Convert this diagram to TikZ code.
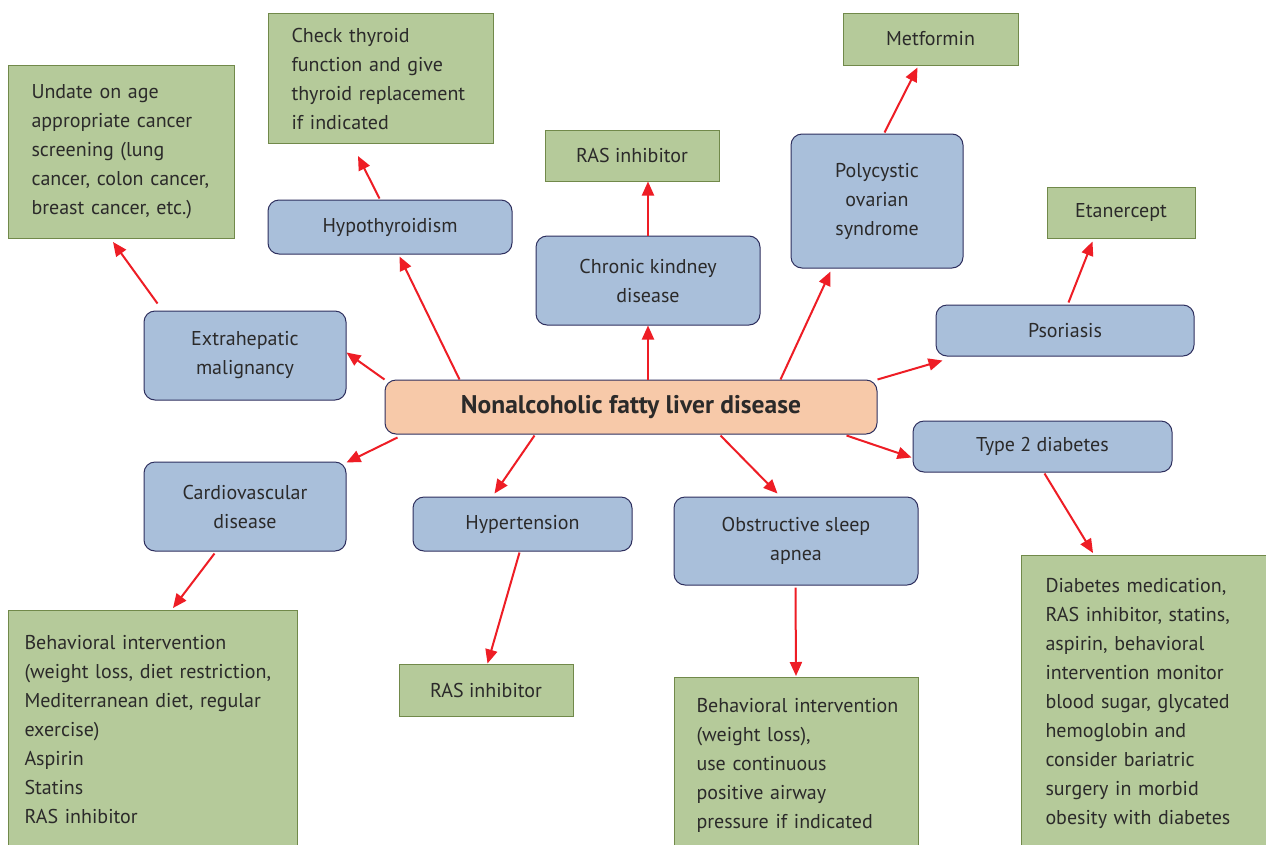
\documentclass[tikz,border=0pt]{standalone}
\usepackage{fontspec}
\setmainfont{PT Sans}
\usetikzlibrary{arrows.meta,calc}

\definecolor{peachfill}{HTML}{F7C9A9}
\definecolor{bluefill}{HTML}{A9BFDA}
\definecolor{greenfill}{HTML}{B5CA9A}
\definecolor{navyline}{HTML}{2E2F5E}
\definecolor{oliveline}{HTML}{71894A}
\definecolor{linkred}{HTML}{EE1D25}
\definecolor{inkgray}{HTML}{2B2A2A}

\tikzstyle{disease}=[draw=navyline,fill=bluefill,rounded corners=11pt,line width=1pt,inner sep=0pt,align=center,text=inkgray,font=\fontsize{20}{29}\selectfont]
\tikzstyle{treat}=[draw=oliveline,fill=greenfill,line width=1pt,inner sep=0pt,align=left,text=inkgray,font=\fontsize{20}{29}\selectfont]
\tikzstyle{link}=[draw=linkred,line width=2pt,-{Triangle[length=14pt,width=12pt,fill=linkred]}]

\begin{document}
\begin{tikzpicture}[x=1pt,y=-1pt]
		\useasboundingbox[fill=white] (0,0) rectangle (1266,844);
		% centre
		\node[draw=navyline,fill=peachfill,rounded corners=11pt,line width=1pt,minimum width=492pt,minimum height=54pt,text=inkgray,font=\fontsize{25.5}{30}\selectfont\bfseries] (nafld) at (631,407) {Nonalcoholic fatty liver disease};
		% related diseases
		\node[disease,minimum width=202pt,minimum height=89pt] (ext) at (245,355.5) {Extrahepatic\\malignancy};
		\node[disease,minimum width=244pt,minimum height=54pt] (hypo) at (390,227) {Hypothyroidism};
		\node[disease,minimum width=224pt,minimum height=89pt] (ckd) at (648,280.5) {Chronic kindney\\disease};
		\node[disease,minimum width=172pt,minimum height=134pt] (pcos) at (877,201) {Polycystic\\ovarian\\syndrome};
		\node[disease,minimum width=258pt,minimum height=51pt] (psor) at (1065,330.5) {Psoriasis};
		\node[disease,minimum width=259pt,minimum height=51pt] (t2d) at (1042.5,446.5) {Type 2 diabetes};
		\node[disease,minimum width=244pt,minimum height=88pt] (osa) at (796,541) {Obstructive sleep\\apnea};
		\node[disease,minimum width=219pt,minimum height=54pt] (hyper) at (522.5,524) {Hypertension};
		\node[disease,minimum width=202pt,minimum height=89pt] (cardio) at (245,506.5) {Cardiovascular\\disease};
		% management
		\node[treat,anchor=north west,inner xsep=23pt,text width=180pt,minimum height=173pt] (undate) at (8,65) {Undate on age\\appropriate cancer\\screening (lung\\cancer, colon cancer,\\breast cancer, etc.)};
		\node[treat,anchor=north west,inner xsep=23pt,text width=179pt,minimum height=130pt] (check) at (268,13) {Check thyroid\\function and give\\thyroid replacement\\if indicated};
		\node[treat,align=center,minimum width=174pt,minimum height=51pt] (ras1) at (632,155.5) {RAS inhibitor};
		\node[treat,align=center,minimum width=175pt,minimum height=52pt] (metf) at (930.5,39) {Metformin};
		\node[treat,align=center,minimum width=148pt,minimum height=51pt] (etan) at (1121,212.5) {Etanercept};
		\node[treat,anchor=north west,inner xsep=24pt,inner ysep=23pt,text width=210pt] (diab) at (1021,555) {Diabetes medication,\\RAS inhibitor, statins,\\aspirin, behavioral\\intervention monitor\\blood sugar, glycated\\hemoglobin and\\consider bariatric\\surgery in morbid\\obesity with diabetes};
		\node[treat,anchor=north west,inner xsep=16pt,inner ysep=25pt,text width=257pt] (beh1) at (8,610) {Behavioral intervention\\(weight loss, diet restriction,\\Mediterranean diet, regular\\exercise)\\Aspirin\\Statins\\RAS inhibitor};
		\node[treat,align=center,minimum width=174pt,minimum height=52pt] (ras2) at (486,690) {RAS inhibitor};
		\node[treat,anchor=north west,inner xsep=22pt,inner ysep=21pt,text width=200pt] (beh2) at (674,677) {\mbox{Behavioral intervention}\\(weight loss),\\use continuous\\positive airway\\pressure if indicated};
		% arrows
		\draw[link] (nafld.north west) -- ($(ext.east)+(0,-3)$);
		\draw[link] ($(ext.north west)+(14,-7)$) -- ($(undate.south west)+(105,3)$);
		\draw[link] ($(nafld.north west)+(75,0)$) -- ($(hypo.south west)+(132,2)$);
		\draw[link] ($(hypo.north west)+(112,-1)$) -- ($(check.south west)+(90,12)$);
		\draw[link] (ckd.south |- nafld.north) -- (ckd.south);
		\draw[link] (ckd.north) -- (ckd.north |- ras1.south);
		\draw[link] ($(nafld.north east)+(-97,0)$) -- ($(pcos.south west)+(40,3)$);
		\draw[link] ($(pcos.north west)+(94,-1)$) -- ($(metf.south west)+(75,2)$);
		\draw[link] (nafld.north east) -- ($(psor.south west)+(7,4)$);
		\draw[link] ($(psor.north west)+(133,-2)$) -- ($(etan.south west)+(46,3)$);
		\draw[link] ($(nafld.south east)+(-31,1)$) -- ($(t2d.north west)+(-1,37)$);
		\draw[link] ($(t2d.south west)+(132,1)$) -- ($(diab.north west)+(72,-2)$);
		\draw[link] ($(nafld.south east)+(-157,1)$) -- ($(osa.north west)+(104,-3)$);
		\draw[link] ($(osa.south west)+(122,2)$) -- ($(beh2.north west)+(122,-1)$);
		\draw[link] ($(nafld.south west)+(150,1)$) -- ($(hyper.north west)+(82,-3)$);
		\draw[link] ($(hyper.south west)+(107,1)$) -- ($(ras2.north west)+(89,0)$);
		\draw[link] ($(nafld.south west)+(13,3)$) -- ($(cardio.north east)+(0,1)$);
		\draw[link] ($(cardio.south west)+(71,2)$) -- ($(beh1.north west)+(165,-2)$);
\end{tikzpicture}
\end{document}
